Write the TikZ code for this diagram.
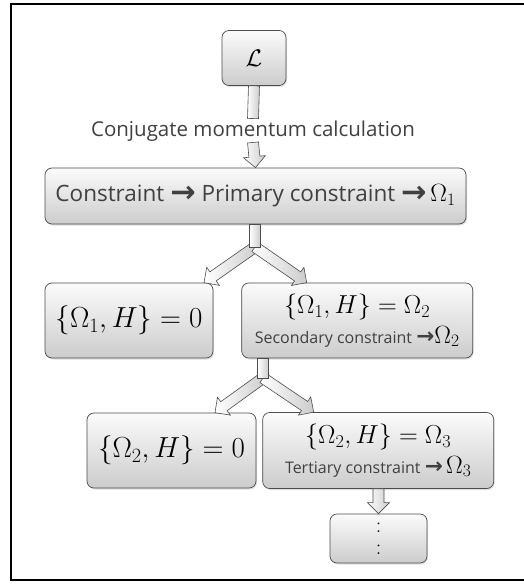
\RequirePackage{fix-cm}
\documentclass[tikz,border=0pt]{standalone}
\usepackage{amsmath,amssymb}
\usepackage{fontspec}
\setsansfont{Open Sans}
\newfontfamily\arrowfont{DejaVu Sans}
\usetikzlibrary{positioning,calc,shadows}

\newcommand{\toarr}{\raisebox{-0.05em}{\scalebox{1.35}{\arrowfont\bfseries →}}}
\newcommand{\fs}[1]{\fontsize{#1}{#1}\selectfont}

\tikzset{
  box/.style={draw=gray!60!black, line width=0.7pt, rounded corners=7pt,
    top color=gray!3, bottom color=gray!40, align=center, inner sep=0pt,
    drop shadow={opacity=0.25, shadow xshift=1pt, shadow yshift=-1.5pt}},
  note/.style={font=\sffamily\fs{20.5}, text=black!75, inner sep=0pt},
  % fat arrow, built from its two ends
  fatarrow/.style={draw=gray!60!black, line width=0.6pt, left color=white, right color=gray!40,
    to path={
      ($(\tikztostart)!5.5pt!90:(\tikztotarget)$)
      -- ($(\tikztotarget)!11pt!(\tikztostart)!5.5pt!90:(\tikztotarget)$)
      -- ($(\tikztotarget)!11pt!(\tikztostart)!11pt!90:(\tikztotarget)$)
      -- (\tikztotarget)
      -- ($(\tikztotarget)!11pt!(\tikztostart)!11pt!-90:(\tikztotarget)$)
      -- ($(\tikztotarget)!11pt!(\tikztostart)!5.5pt!-90:(\tikztotarget)$)
      -- ($(\tikztostart)!5.5pt!-90:(\tikztotarget)$) -- cycle}},
  fatbar/.style={draw=gray!60!black, line width=0.6pt, left color=white, right color=gray!40,
    to path={
      ($(\tikztostart)!5.5pt!90:(\tikztotarget)$)
      -- ($(\tikztotarget)!5.5pt!-90:(\tikztostart)$)
      -- ($(\tikztotarget)!5.5pt!90:(\tikztostart)$)
      -- ($(\tikztostart)!5.5pt!-90:(\tikztotarget)$) -- cycle}}
}

\begin{document}
\begin{tikzpicture}[x=1pt, y=-1pt]
  \useasboundingbox (0,0) rectangle (523,585);
  \draw[line width=2pt] (530,4) -- (11,4) -- (11,580) -- (530,580);

  \node[box, minimum width=64pt, minimum height=55pt] (lag) at (254,58) {\fs{24}$\mathcal{L}$};
  \node[note] (conj) at (253,131) {Conjugate momentum calculation};
  \node[box, minimum width=421pt, minimum height=56pt] (cons) at (255.5,196)
    {\sffamily\fs{22.5}\color{black!75}Constraint \toarr\ Primary constraint \toarr\,{\color{black}\fs{25}$\Omega_1$}};

  \node[box, minimum width=168pt, minimum height=75pt] (b1) at (129,320.5) {\fs{29}$\{\Omega_1,H\}=0$};
  \node[box, minimum width=231pt, minimum height=75pt, right=28pt of b1] (b2)
    {\fs{26}$\{\Omega_1,H\}=\Omega_2$\\[5pt]
     {\sffamily\fs{16}\color{black!75}Secondary constraint \toarr}{\fs{25}$\Omega_2$}};

  \node[box, minimum width=169pt, minimum height=75pt] (b3) at (171.5,450.5) {\fs{29}$\{\Omega_2,H\}=0$};
  \node[box, minimum width=231pt, minimum height=76pt, right=6pt of b3] (b4)
    {\fs{26}$\{\Omega_2,H\}=\Omega_3$\\[5pt]
     {\sffamily\fs{16}\color{black!75}Tertiary constraint \toarr}\ {\fs{25}$\Omega_3$}};

  \node[box, minimum width=97pt, minimum height=49pt] (b5) at (378.5,538.5)
    {\fs{22}$:$\\[10pt]\fs{22}$:$};

  \coordinate (j1) at (255,247);
  \coordinate (j2) at (263,378);

  \draw[fatbar] (lag.south) to ([yshift=2pt]conj.north);
  \draw[fatarrow] ([yshift=-1pt]conj.south) to (cons.north);

  \draw[fatarrow] (j1) to ([xshift=75pt]b1.north);
  \draw[fatarrow] (j1) to ([xshift=-50.5pt]b2.north);
  \draw[fatbar] (j1 |- cons.south) to (j1);

  \draw[fatarrow] (j2) to ([xshift=43.5pt]b3.north);
  \draw[fatarrow] (j2) to ([xshift=-64.5pt]b4.north);
  \draw[fatbar] (j2 |- b2.south) to (j2);

  \draw[fatarrow] (b5.north |- b4.south) to (b5.north);
\end{tikzpicture}
\end{document}
